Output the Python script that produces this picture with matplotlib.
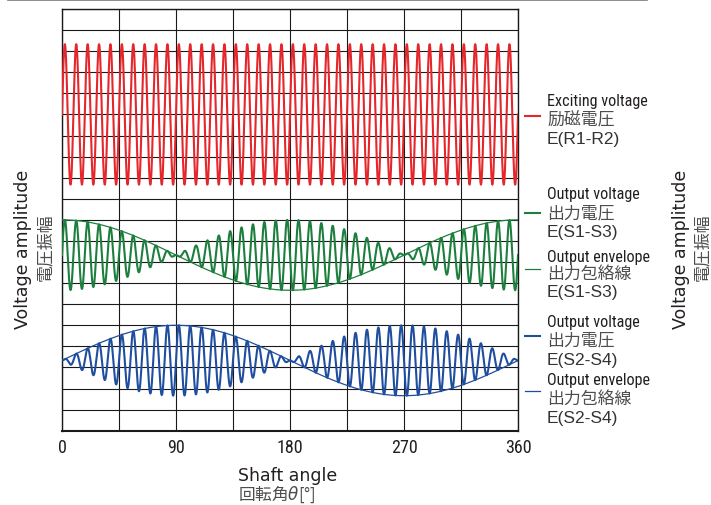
import numpy as np
import matplotlib
matplotlib.use("Agg")
import matplotlib.pyplot as plt
from matplotlib.lines import Line2D
import matplotlib.font_manager as fm
from matplotlib.font_manager import FontProperties

# ---------------- data (in grid units) ----------------
angle_ticks = [0, 90, 180, 270, 360]
angle_tick_labels = ["0", "90", "180", "270", "360"]
carrier_cycles = 40            # excitation cycles per revolution
red_center, red_amp = 15.0, 3.33
s13_center, s13_amp = 8.33, 1.67
s24_center, s24_amp = 3.33, 1.67

legend_titles = ["Exciting voltage", "Output voltage", "Output envelope",
                 "Output voltage", "Output envelope"]
legend_jp = ["励磁電圧", "出力電圧", "出力包絡線", "出力電圧", "出力包絡線"]
legend_sig = ["E(R1-R2)", "E(S1-S3)", "E(S1-S3)", "E(S2-S4)", "E(S2-S4)"]

RED, GREEN, BLUE = "#e5262b", "#1d7f3e", "#1f4e9f"
CJK = "Noto Sans CJK JP"

# ---------------- pick a narrow latin font if one is installed ----------------
def pick_narrow():
    fl = fm.fontManager.ttflist
    def regular(f):
        return f.style == "normal" and f.weight in (400, "normal", "regular", "book")
    prefs = [
        lambda f: f.name == "Liberation Sans Narrow",
        lambda f: f.name == "Roboto Condensed",
        lambda f: f.name.startswith("Noto Sans") and "CJK" not in f.name and f.stretch == "condensed",
        lambda f: f.name.startswith("Open Sans") and (f.stretch == "condensed" or "Condensed" in f.name),
        lambda f: f.name == "DejaVu Sans" and f.stretch in ("condensed", "semi-condensed"),
        lambda f: ("Condensed" in f.name or "Narrow" in f.name),
    ]
    for p in prefs:
        hits = [f for f in fl if p(f) and regular(f)]
        if hits:
            return hits[0].fname
    return None

narrow_path = pick_narrow()

def narrow_fp(size):
    if narrow_path:
        return FontProperties(fname=narrow_path, size=size)
    return FontProperties(family=CJK, size=size * 0.92)

plt.rcParams["font.family"] = [CJK, "DejaVu Sans"]
plt.rcParams["mathtext.fontset"] = "dejavusans"

W, H = 711, 506
fig = plt.figure(figsize=(W / 100, H / 100), dpi=100)

def fx(x):
    return x / W

def fy(y):
    return 1 - y / H

legend_size = 11.6
tick_size = 13.0

L, R, T, B = 62, 518, 10, 431.7
ax = fig.add_axes([fx(L), fy(B), (R - L) / W, (B - T) / H])

theta = np.linspace(0, 360, 6001)
rad = np.deg2rad(theta)
carrier = np.sin(carrier_cycles * rad)

ax.plot(theta, red_center + red_amp * carrier, color=RED, lw=1.5, zorder=3)
ax.plot(theta, s13_center + s13_amp * carrier * np.cos(rad), color=GREEN, lw=1.5, zorder=3)
ax.plot(theta, s13_center + s13_amp * np.cos(rad), color=GREEN, lw=0.9, zorder=3)
ax.plot(theta, s24_center + s24_amp * carrier * np.sin(rad), color=BLUE, lw=1.5, zorder=3)
ax.plot(theta, s24_center + s24_amp * np.sin(rad), color=BLUE, lw=0.9, zorder=3)

ax.set_xlim(0, 360)
ax.set_ylim(0, 20)
ax.set_xticks(angle_ticks)
ax.set_xticks([45, 135, 225, 315], minor=True)
ax.set_xticklabels(angle_tick_labels, fontproperties=narrow_fp(tick_size), color="#231f20")
ax.set_yticks(np.arange(0, 21, 1))
ax.tick_params(axis="y", length=0, labelleft=False)
ax.tick_params(axis="x", which="both", length=0, pad=5)
ax.grid(True, which="both", color="#1a1a1a", lw=0.8, zorder=1)
ax.set_axisbelow(True)
for s in ax.spines.values():
    s.set_color("#1a1a1a")
    s.set_linewidth(1.0)
ax.spines["bottom"].set_linewidth(1.5)

# top rule
fig.add_artist(Line2D([fx(8), fx(647)], [fy(0.7), fy(0.7)], color="#7a7a7a", lw=1.2))

# legend
leg_line_y = [116.7, 214, 270, 336.7, 392.3]
leg_colors = [RED, GREEN, GREEN, BLUE, BLUE]
leg_lw = [1.5, 1.5, 0.9, 1.5, 0.9]
leg_base = [(106, 124.5, 144), (199.3, 218, 236.7), (261.7, 278.5, 296.7),
            (327.3, 345, 365), (385, 403.5, 423)]
for i in range(5):
    fig.add_artist(Line2D([fx(525), fx(540)], [fy(leg_line_y[i])] * 2,
                          color=leg_colors[i], lw=leg_lw[i]))
    b1, b2, b3 = leg_base[i]
    fig.text(fx(547), fy(b1), legend_titles[i], fontproperties=narrow_fp(legend_size),
             color="#231f20", va="baseline", ha="left")
    fig.text(fx(547), fy(b2), legend_jp[i], fontfamily=CJK, fontsize=12.2,
             color="#4d4d4d", va="baseline", ha="left")
    fig.text(fx(547), fy(b3), legend_sig[i], fontfamily=["Liberation Sans", "DejaVu Sans"],
             fontsize=12.5, color="#333333", va="baseline", ha="left")

# axis labels
for xc, xj in [(23, 45), (681, 702)]:
    fig.text(fx(xc), fy(249), "Voltage amplitude", fontfamily="DejaVu Sans", fontsize=12.5,
             rotation=90, va="center", ha="center", color="#231f20")
    fig.text(fx(xj), fy(247), "電圧振幅", fontfamily=CJK, fontsize=12.2,
             rotation=90, va="center", ha="center", color="#4d4d4d")

fig.text(fx(238), fy(481), "Shaft angle", fontfamily="DejaVu Sans", fontsize=12.5,
         va="baseline", ha="left", color="#231f20")
fig.text(fx(238), fy(500), "回転角$\\theta$[°]", fontfamily=CJK, fontsize=12.0,
         va="baseline", ha="left", color="#4d4d4d")

fig.savefig("out.png", dpi=100)
